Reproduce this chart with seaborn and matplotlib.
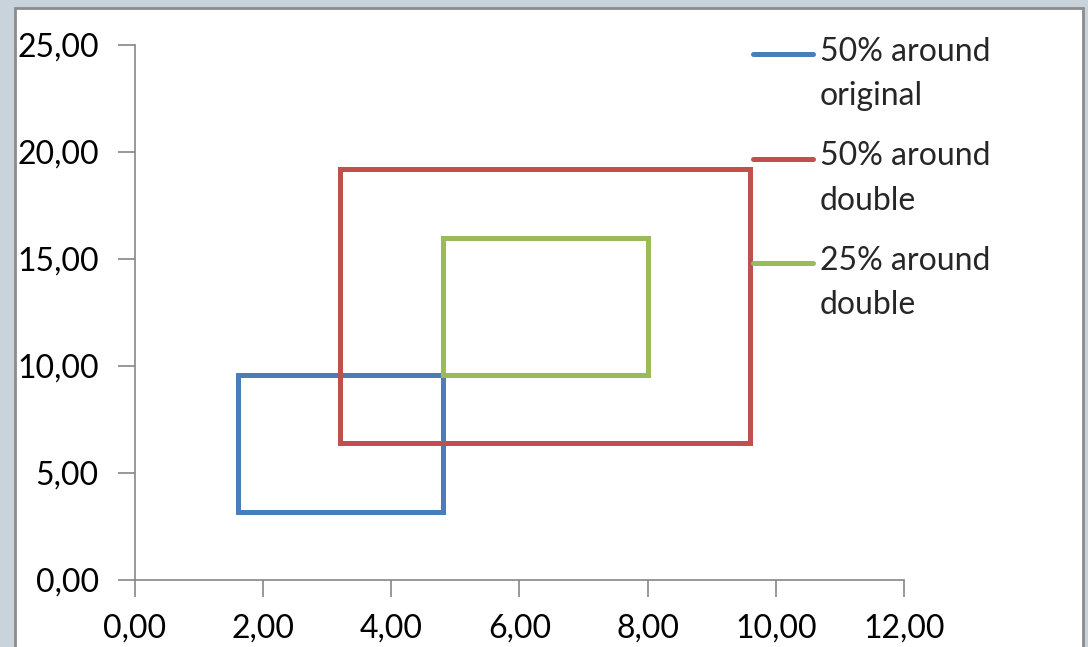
import matplotlib
matplotlib.use("Agg", force=True)
import matplotlib.pyplot as plt
from matplotlib.patches import Rectangle
import pandas as pd
import seaborn as sns

# closed rectangles: corners traced in order, back to start
series_names = ["50% around\noriginal", "50% around\ndouble", "25% around\ndouble"]
blue_x = [1.6, 1.6, 4.8, 4.8, 1.6]
blue_y = [3.2, 9.6, 9.6, 3.2, 3.2]
red_x = [3.2, 3.2, 9.6, 9.6, 3.2]
red_y = [6.4, 19.2, 19.2, 6.4, 6.4]
green_x = [4.8, 4.8, 8.0, 8.0, 4.8]
green_y = [9.6, 16.0, 16.0, 9.6, 9.6]
colors = ["#4a7ebb", "#c0504d", "#9bbb59"]

x_ticks = [0, 2, 4, 6, 8, 10, 12]
y_ticks = [0, 5, 10, 15, 20, 25]


def main() -> None:
    sns.set_style("white")
    plt.rcParams["font.family"] = ["Lato", "DejaVu Sans"]

    frames = []
    for name, xs, ys in zip(series_names, [blue_x, red_x, green_x], [blue_y, red_y, green_y]):
        frames.append(pd.DataFrame({"x": xs, "y": ys, "series": name}))
    df = pd.concat(frames, ignore_index=True)

    fig = plt.figure(figsize=(10.88, 6.47), dpi=100)
    fig.set_facecolor("#c9d3db")
    fig.patches.append(Rectangle((15 / 1088, -0.05), 1068 / 1088, 1.05 - 8 / 647,
                                 transform=fig.transFigure, facecolor="white",
                                 edgecolor="#8c8c8c", linewidth=2, zorder=-10))
    ax = fig.add_axes([135 / 1088, 67 / 647, 769 / 1088, 535 / 647])
    ax.set_facecolor("none")

    sns.lineplot(data=df, x="x", y="y", hue="series", units="series", sort=False,
                 estimator=None, palette=colors, linewidth=3.6, ax=ax,
                 solid_capstyle="projecting", solid_joinstyle="miter")

    ax.set_xlim(0, 12)
    ax.set_ylim(0, 25)
    ax.set_xticks(x_ticks)
    ax.set_yticks(y_ticks)
    ax.set_xticklabels([f"{v:.2f}".replace(".", ",") for v in x_ticks])
    ax.set_yticklabels([f"{v:.2f}".replace(".", ",") for v in y_ticks])
    ax.tick_params(axis="both", direction="out", length=12, width=1.2, color="#868686",
                   labelsize=23, labelcolor="black", bottom=True, left=True)
    ax.tick_params(axis="y", pad=14)
    ax.tick_params(axis="x", pad=12)
    for side in ["top", "right"]:
        ax.spines[side].set_visible(False)
    for side in ["left", "bottom"]:
        ax.spines[side].set_color("#868686")
        ax.spines[side].set_linewidth(1.2)
    ax.set_xlabel("")
    ax.set_ylabel("")

    handles, labels = ax.get_legend_handles_labels()
    leg = ax.legend(handles, labels, loc="upper left", bbox_to_anchor=(753 / 1088, 1 - 37 / 647),
                    bbox_transform=fig.transFigure, frameon=False, fontsize=23,
                    handlelength=1.87, handletextpad=0.22, labelspacing=0.94, borderpad=0,
                    borderaxespad=0)
    for t in leg.get_texts():
        t.set_linespacing(1.6)
    # Excel puts the key line level with the first text line
    for ln in leg.get_lines():
        ln.set_solid_capstyle("round")
        yd = ln.get_ydata()
        ln.set_ydata([v + 15.0 for v in yd])

    fig.savefig("out.png", dpi=100, facecolor=fig.get_facecolor())
    plt.close(fig)


if __name__ == "__main__":
    main()
